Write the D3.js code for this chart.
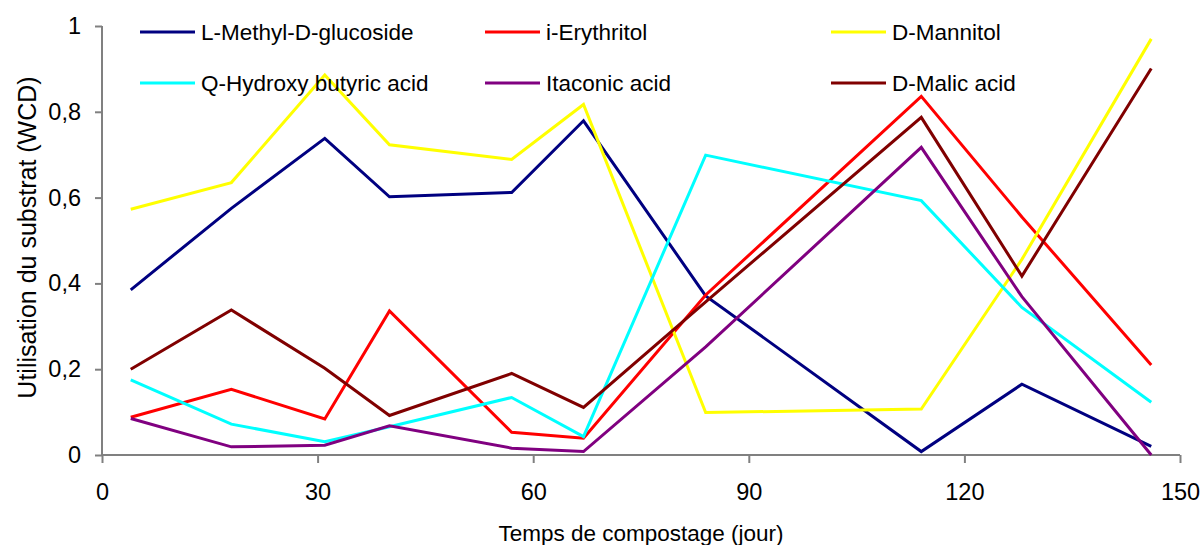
<!DOCTYPE html>
<html>
<head>
<meta charset="utf-8">
<script src="https://cdn.jsdelivr.net/npm/d3@7"></script>
<style>
html,body{margin:0;padding:0;background:#fff;}
svg{display:block;font-family:"Liberation Sans",Arial,sans-serif;}
</style>
</head>
<body>
<svg id="chart" width="1202" height="545"></svg>
<script>
const days = [4, 18, 31, 40, 57, 67, 84, 114, 128, 146];
const seriesNames = ["L-Methyl-D-glucoside", "i-Erythritol", "D-Mannitol", "Q-Hydroxy butyric acid", "Itaconic acid", "D-Malic acid"];
const seriesColors = ["#000080", "#FF0000", "#FFFF00", "#00FFFF", "#800080", "#800000"];
const methylGlucoside = [0.385, 0.575, 0.738, 0.602, 0.612, 0.779, 0.371, 0.008, 0.165, 0.02];
const erythritol      = [0.088, 0.153, 0.084, 0.336, 0.053, 0.039, 0.373, 0.836, 0.555, 0.21];
const mannitol        = [0.573, 0.635, 0.886, 0.723, 0.689, 0.817, 0.099, 0.107, 0.456, 0.970];
const hydroxyButyric  = [0.175, 0.072, 0.031, 0.066, 0.134, 0.043, 0.699, 0.593, 0.344, 0.123];
const itaconic        = [0.085, 0.019, 0.023, 0.068, 0.016, 0.008, 0.252, 0.717, 0.369, 0.0];
const malic           = [0.200, 0.338, 0.202, 0.092, 0.190, 0.111, 0.357, 0.787, 0.417, 0.901];
const seriesValues = [methylGlucoside, erythritol, mannitol, hydroxyButyric, itaconic, malic];
const xTicks = [0, 30, 60, 90, 120, 150];
const yTicks = [0, 0.2, 0.4, 0.6, 0.8, 1];
const xTitle = "Temps de compostage (jour)";
const yTitle = "Utilisation du substrat (WCD)";

const svg = d3.select("#chart");
const x = d3.scaleLinear().domain([0, 150]).range([102, 1180]);
const y = d3.scaleLinear().domain([0, 1]).range([455, 26]);
const axisColor = "#808080";
const fontSize = 22.5;
const tickFont = 23.5;

// Y axis
const yAxis = svg.append("g").attr("transform", "translate(102,0)")
  .call(d3.axisLeft(y).tickValues(yTicks).tickSize(7).tickPadding(14)
    .tickFormat(d => d3.format("~g")(d).replace(".", ",")));
yAxis.select(".domain").attr("stroke", axisColor).attr("stroke-width", 2).attr("d", `M0,${y(1)}V${y(0)}`);
yAxis.selectAll(".tick line").attr("stroke", axisColor).attr("stroke-width", 2);
yAxis.selectAll(".tick text").attr("font-size", tickFont).attr("fill", "#000")
  .attr("font-family", "Liberation Sans, Arial, sans-serif");

// X axis
const xAxis = svg.append("g").attr("transform", "translate(0,455)")
  .call(d3.axisBottom(x).tickValues(xTicks).tickSize(8).tickPadding(20).tickFormat(d3.format("d")));
xAxis.select(".domain").attr("stroke", axisColor).attr("stroke-width", 2).attr("d", `M${x(0)},0H${x(150)}`);
xAxis.selectAll(".tick line").attr("stroke", axisColor).attr("stroke-width", 2);
xAxis.selectAll(".tick text").attr("font-size", tickFont).attr("fill", "#000")
  .attr("font-family", "Liberation Sans, Arial, sans-serif");

// Lines
const line = d3.line().x((d, i) => x(days[i])).y(d => y(d));
seriesValues.forEach((vals, k) => {
  svg.append("path").datum(vals)
    .attr("fill", "none").attr("stroke", seriesColors[k]).attr("stroke-width", 3)
    .attr("stroke-linejoin", "miter").attr("d", line);
});

// Legend
const legCols = [140, 485, 831];
const legRows = [32, 83];
seriesNames.forEach((name, k) => {
  const cx = legCols[k % 3], cy = legRows[Math.floor(k / 3)];
  svg.append("line").attr("x1", cx).attr("x2", cx + 55).attr("y1", cy).attr("y2", cy)
    .attr("stroke", seriesColors[k]).attr("stroke-width", 3);
  svg.append("text").attr("x", cx + 61).attr("y", cy).attr("dy", "0.35em")
    .attr("font-size", fontSize).attr("fill", "#000").text(name);
});

// Titles
svg.append("text").attr("x", x(75)).attr("y", 541).attr("text-anchor", "middle")
  .attr("font-size", fontSize).attr("fill", "#000").text(xTitle);
svg.append("text").attr("transform", `translate(27,${(72 + 403) / 2}) rotate(-90)`)
  .attr("text-anchor", "middle").attr("dy", "0.35em")
  .attr("font-size", 25).attr("fill", "#000").text(yTitle);
</script>
</body>
</html>
